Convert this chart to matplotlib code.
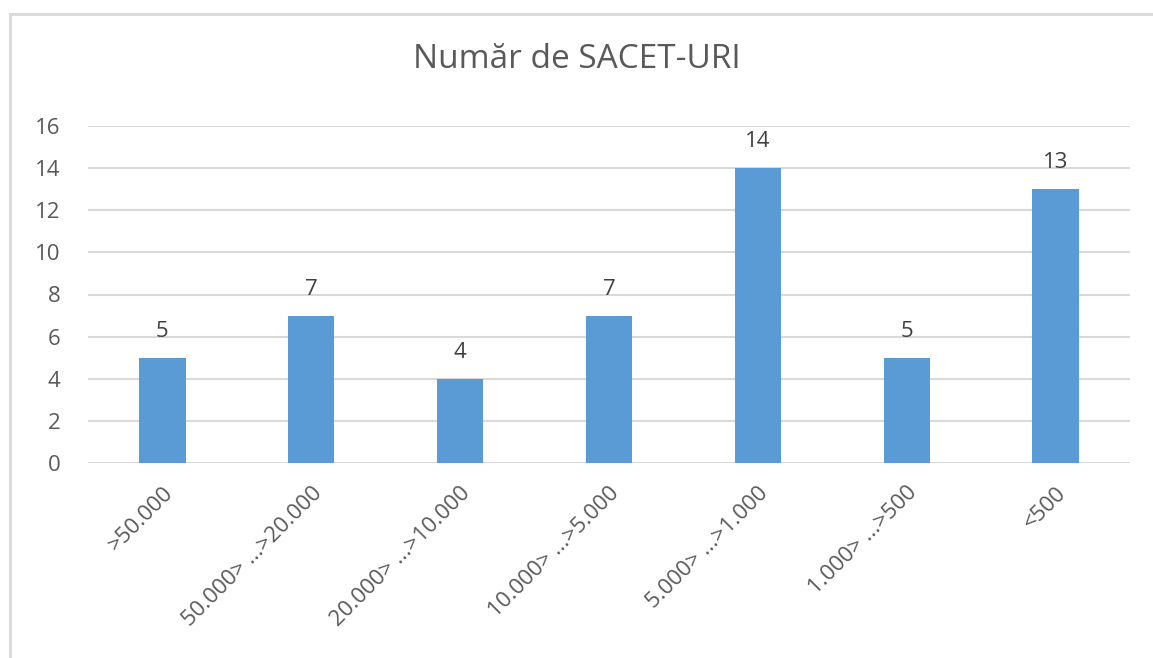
import matplotlib
matplotlib.use("Agg")
import matplotlib.pyplot as plt
from matplotlib.lines import Line2D

categories = [">50.000", "50.000> ...>20.000", "20.000> ...>10.000",
              "10.000> ...>5.000", "5.000> ...>1.000", "1.000> ...>500", "<500"]
counts = [5, 7, 4, 7, 14, 5, 13]
yticks = [0, 2, 4, 6, 8, 10, 12, 14, 16]

W, H = 1153, 658
plt.rcParams["font.family"] = ["Open Sans", "DejaVu Sans"]

fig = plt.figure(figsize=(W / 100, H / 100), dpi=100)
ax = fig.add_axes([88 / W, 1 - 463 / H, (1130 - 88) / W, (463 - 126) / H])

# chart frame: only top and left edges are visible in the crop
fig.lines.append(Line2D([9.5 / W, 1.0], [1 - 13.5 / H, 1 - 13.5 / H],
                        transform=fig.transFigure, color="#D9D9D9", linewidth=2))
fig.lines.append(Line2D([9.5 / W, 9.5 / W], [0, 1 - 13.5 / H],
                        transform=fig.transFigure, color="#D9D9D9", linewidth=2))

x = list(range(len(categories)))
ax.bar(x, counts, width=0.31, color="#5B9BD5", zorder=3)
for xi, v in zip(x, counts):
    ax.annotate(str(v), (xi, v), xytext=(0, 15), textcoords="offset points",
                ha="center", va="baseline", fontsize=16, color="#404040")

ax.set_xlim(-0.5, len(categories) - 0.5)
ax.set_ylim(0, 16)
ax.set_yticks(yticks)
ax.yaxis.grid(True, color="#D9D9D9", linewidth=1.5, zorder=0)
for s in ax.spines.values():
    s.set_visible(False)
ax.tick_params(axis="both", length=0, labelsize=16, labelcolor="#595959")
ax.tick_params(axis="y", pad=20)
ax.tick_params(axis="x", pad=14)
ax.set_xticks(x)
ax.set_xticklabels(categories, rotation=45, ha="right", rotation_mode="anchor")

fig.text(0.5, 1 - 60 / H, "Număr de SACET-URI", ha="center", va="center",
         fontsize=24, color="#595959")

fig.savefig("out.png", dpi=100)
